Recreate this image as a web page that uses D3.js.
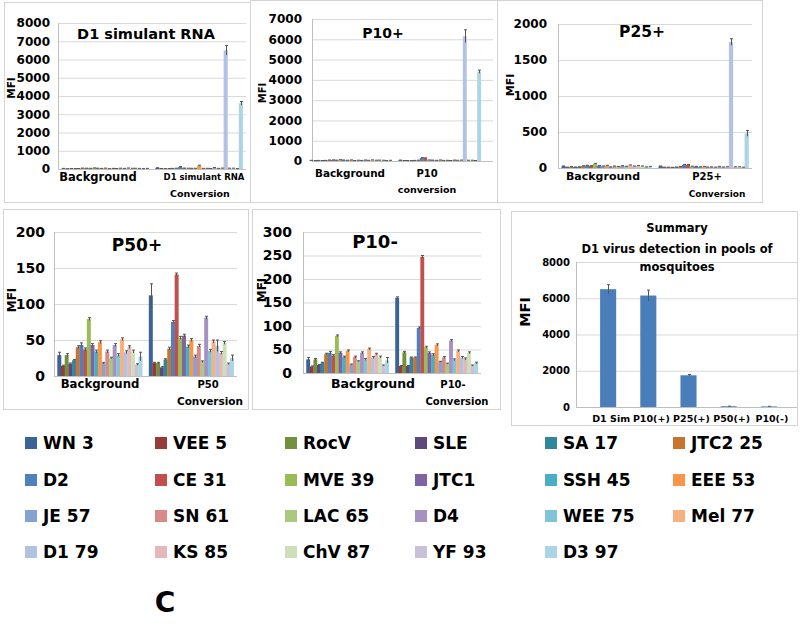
<!DOCTYPE html>
<html><head><meta charset="utf-8">
<script src="https://cdn.jsdelivr.net/npm/d3@7"></script>
<style>body{margin:0;background:#fff}svg{display:block}text{font-family:"DejaVu Sans",sans-serif;font-weight:bold;fill:#000}</style>
</head><body><svg id="c" width="800" height="630"></svg>
<script>
// ---------- data ----------
const series = ["WN 3","VEE 5","RocV","SLE","SA 17","JTC2 25","D2","CE 31","MVE 39","JTC1","SSH 45","EEE 53","JE 57","SN 61","LAC 65","D4","WEE 75","Mel 77","D1 79","KS 85","ChV 87","YF 93","D3 97"];
const colors = ["#3B6496","#983A38","#74903C","#5F497A","#31859C","#C8742F","#4F81BD","#C0504D","#9BBB59","#8064A2","#4BACC6","#F79646","#86A2D4","#D88A88","#ABC87F","#A592C3","#80C4D9","#F8B07E","#B2C2E2","#E4B8B8","#CDDFB8","#C9C1DA","#ABD5E3"];
const groupLabels = ["Background","Conversion"];

const d1SimBackground    = [30,15,25,20,25,45,40,35,55,40,30,45,20,30,25,40,30,50,35,35,30,20,30];
const d1SimBackgroundErr = [5,3,4,3,4,5,5,4,6,5,4,5,3,4,4,5,4,6,5,5,4,3,5];
const d1SimConversion    = [60,25,20,20,30,40,120,45,40,35,35,190,30,35,25,70,30,45,6500,40,40,20,3600];
const d1SimConversionErr = [10,4,4,4,5,6,15,6,6,5,5,20,5,5,4,10,5,6,260,6,6,4,100];

const p10pBackground    = [30,15,25,20,25,45,50,40,60,45,35,50,20,35,25,45,30,50,35,40,35,20,30];
const p10pBackgroundErr = [5,3,4,3,4,5,5,4,6,5,4,5,3,4,4,5,4,6,5,5,4,3,5];
const p10pConversion    = [40,20,20,15,25,35,150,140,45,40,30,45,25,30,20,40,30,40,6150,35,35,20,4400];
const p10pConversionErr = [6,4,4,3,4,5,15,15,6,5,5,6,4,5,4,6,5,6,320,5,5,4,80];

const p25pBackground    = [25,10,18,12,15,28,35,30,60,32,25,35,14,25,18,30,22,40,25,30,25,14,20];
const p25pBackgroundErr = [3,2,2,2,2,3,3,3,4,3,3,3,2,3,2,3,3,3,3,3,3,2,3];
const p25pConversion    = [25,10,10,8,12,18,45,45,22,20,15,20,12,14,10,20,12,16,1750,15,15,10,480];
const p25pConversionErr = [3,2,2,2,2,2,4,4,3,3,2,3,2,2,2,3,2,2,45,2,2,2,40];

const p50pBackground    = [29,14,29,17,22,40,43,37,79,43,34,47,18,34,25,43,29,51,33,40,34,16,27];
const p50pBackgroundErr = [4,1,2,1,1,2,3,2,2,2,2,2,1,2,1,2,2,2,2,2,2,1,6];
const p50pConversion    = [112,18,18,12,23,38,75,141,53,56,41,50,27,42,20,81,35,48,42,32,46,17,25];
const p50pConversionErr = [16,1,1,1,1,2,2,2,2,2,2,2,2,2,1,2,2,2,8,2,2,1,4];

const p10mBackground    = [29,14,29,17,22,40,43,37,79,43,34,47,18,34,25,43,29,51,33,40,34,16,27];
const p10mBackgroundErr = [4,1,2,1,1,2,3,2,2,2,2,2,1,2,1,2,2,2,2,2,2,1,6];
const p10mConversion    = [160,15,44,15,33,33,96,247,55,43,39,60,24,33,20,69,28,47,33,30,43,16,21];
const p10mConversionErr = [2,1,2,1,1,1,2,3,2,2,2,2,1,2,1,2,2,2,2,2,2,1,2];

const summaryLabels = ["D1 Sim","P10(+)","P25(+)","P50(+)","P10(-)"];
const summaryValues = [6500,6150,1750,42,32];
const summaryErr    = [250,300,40,5,4];

// ---------- drawing ----------
const svg = d3.select("#c");
svg.append("rect").attr("width",800).attr("height",630).attr("fill","#fff");

function frame(box){
  svg.append("rect").attr("x",box[0]+0.5).attr("y",box[1]+0.5)
    .attr("width",box[2]-box[0]).attr("height",box[3]-box[1])
    .attr("fill","#fff").attr("stroke","#d4d4d4");
}
function yAxis(g,y,cfg){
  const ticks = d3.range(0,cfg.yMax+1,cfg.step);
  g.append("g").attr("transform",`translate(${cfg.x0},0)`)
    .call(d3.axisLeft(y).tickValues(ticks).tickSize(-(cfg.x1-cfg.x0)).tickFormat(""))
    .call(a=>a.select(".domain").remove())
    .selectAll("line").attr("stroke","#d9d9d9");
  const lab = g.append("g").attr("transform",`translate(${cfg.tickRight},0)`)
    .call(d3.axisLeft(y).tickValues(ticks).tickSize(0).tickPadding(0).tickFormat(d3.format("d")));
  lab.select(".domain").remove();
  lab.selectAll("text").attr("font-family",cfg.tickFont||"DejaVu Sans").attr("font-weight","bold")
    .attr("font-size",cfg.tickSize).attr("fill","#000");
  g.append("line").attr("x1",cfg.x0+0.5).attr("x2",cfg.x0+0.5).attr("y1",cfg.y1).attr("y2",cfg.y0).attr("stroke","#bfbfbf");
  g.append("line").attr("x1",cfg.x0).attr("x2",cfg.x1).attr("y1",cfg.y0+0.5).attr("y2",cfg.y0+0.5).attr("stroke","#bfbfbf");
  g.append("text").attr("transform",`translate(${cfg.mfi[0]},${cfg.mfi[1]}) rotate(-90)`)
    .attr("text-anchor","middle").attr("dominant-baseline","central").attr("font-size",cfg.mfi[2]).text("MFI");
}
function errBars(g,data,y){
  const eg = g.append("g").attr("stroke","#555").attr("stroke-width",1);
  data.forEach(d=>{
    if(!d.e) return;
    const cx = Math.round(d.cx)+0.5;
    eg.append("line").attr("x1",cx).attr("x2",cx).attr("y1",y(d.v+d.e)).attr("y2",y(Math.max(0,d.v-d.e)));
    eg.append("line").attr("x1",cx-1.5).attr("x2",cx+1.5).attr("y1",y(d.v+d.e)).attr("y2",y(d.v+d.e));
  });
}
function panel(cfg){
  frame(cfg.box);
  const g = svg.append("g");
  const y = d3.scaleLinear().domain([0,cfg.yMax]).range([cfg.y0,cfg.y1]);
  yAxis(g,y,cfg);
  const x = d3.scaleBand().domain(groupLabels).range([cfg.bx0??cfg.x0,cfg.bx1??cfg.x1]);
  const xi = d3.scaleBand().domain(series).range([0,x.bandwidth()]).paddingInner(0).paddingOuter(cfg.pad);
  const data = [];
  groupLabels.forEach((grp,gi)=>{
    series.forEach((s,si)=>{
      data.push({s,color:colors[si],x:x(grp)+xi(s),w:xi.bandwidth(),cx:x(grp)+xi(s)+xi.bandwidth()/2,v:cfg.values[gi][si],e:cfg.errs[gi][si]});
    });
  });
  g.append("g").selectAll("rect").data(data).join("rect")
    .attr("x",d=>d.x).attr("width",d=>d.w+0.3)
    .attr("y",d=>y(d.v)).attr("height",d=>y(0)-y(d.v)).attr("fill",d=>d.color);
  errBars(g,data,y);
  g.append("text").attr("x",cfg.title[0]).attr("y",cfg.title[1]).attr("text-anchor","middle")
    .attr("font-size",cfg.title[2]).text(cfg.titleText);
  cfg.cats.forEach(c=>{
    g.append("text").attr("x",c[1]).attr("y",c[2]).attr("text-anchor","middle").attr("font-size",c[3]).text(c[0]);
  });
}

panel({box:[4,2,250,202],x0:58,x1:246,y0:169,y1:23,yMax:8000,step:1000,tickRight:50,tickSize:12,pad:0.9,
  mfi:[11,88,10.5],title:[146,39,14.5],titleText:"D1 simulant RNA",
  values:[d1SimBackground,d1SimConversion],errs:[d1SimBackgroundErr,d1SimConversionErr],
  cats:[["Background",98,181,11.5],["D1 simulant RNA",204,180,8.5],["Conversion",200,197,9.5]]});

panel({box:[250,0,497,202],x0:312,x1:493,bx0:306,bx1:484,y0:161,y1:19,yMax:7000,step:1000,tickRight:302,tickSize:12,pad:0.9,
  mfi:[262,93,10],title:[383,38,14],titleText:"P10+",
  values:[p10pBackground,p10pConversion],errs:[p10pBackgroundErr,p10pConversionErr],
  cats:[["Background",350,177,10.4],["P10",427,177,10],["conversion",427,193,9.5]]});

panel({box:[497,0,762,202],x0:558,x1:752,y0:168,y1:24,yMax:2000,step:500,tickRight:547,tickSize:12,pad:0.9,
  mfi:[510,85,11],title:[642,37,15.5],titleText:"P25+",
  values:[p25pBackground,p25pConversion],errs:[p25pBackgroundErr,p25pConversionErr],
  cats:[["Background",603,180,11],["P25+",707,180,10],["Conversion",717,197,9]]});

panel({box:[3,209,248,409],x0:54,x1:237,y0:376,y1:232,yMax:200,step:50,tickRight:45,tickSize:14,tickFont:"Open Sans",pad:0.9,
  mfi:[12,300,12],title:[137,251,17],titleText:"P50+",
  values:[p50pBackground,p50pConversion],errs:[p50pBackgroundErr,p50pConversionErr],
  cats:[["Background",100,388,11.7],["P50",208,388,10],["Conversion",210,405,10.5]]});

panel({box:[252,209,500,409],x0:303,x1:481,y0:373,y1:232,yMax:300,step:50,tickRight:292,tickSize:14,tickFont:"Open Sans",pad:0.9,
  mfi:[262,290,12],title:[375,248,18],titleText:"P10-",
  values:[p10mBackground,p10mConversion],errs:[p10mBackgroundErr,p10mConversionErr],
  cats:[["Background",373,388,12.5],["P10-",453,388,10],["Conversion",457,405,10]]});

// summary
(function(){
  const cfg = {box:[511,211,797,425],x0:576,x1:797,y0:407,y1:262,yMax:8000,step:2000,tickRight:570,tickSize:10,mfi:[525,312,14.5]};
  frame(cfg.box);
  const g = svg.append("g");
  const y = d3.scaleLinear().domain([0,cfg.yMax]).range([cfg.y0,cfg.y1]);
  yAxis(g,y,cfg);
  const x = d3.scaleBand().domain(summaryLabels).range([576,801]).padding(0.6);
  const data = summaryLabels.map((l,i)=>({l,v:summaryValues[i],e:summaryErr[i],x:x(l),w:x.bandwidth(),cx:x(l)+x.bandwidth()/2}));
  g.append("g").selectAll("rect").data(data).join("rect")
    .attr("x",d=>d.x).attr("width",d=>d.w).attr("y",d=>y(d.v)).attr("height",d=>y(0)-y(d.v)).attr("fill","#4A7EBB");
  errBars(g,data,y);
  g.selectAll("text.cat").data(data).join("text").attr("class","cat")
    .attr("x",d=>d.cx+3).attr("y",422).attr("text-anchor","middle").attr("font-size",9.5).text(d=>d.l);
  ["Summary","D1 virus detection in pools of","mosquitoes"].forEach((t,i)=>{
    g.append("text").attr("x",677).attr("y",[232,253,271][i]).attr("text-anchor","middle").attr("font-size",11.5).text(t);
  });
})();

// legend
const lg = svg.append("g");
const colX = [25,155,285,415,545,673], rowY = [443,480,516,552];
series.forEach((s,i)=>{
  const cx = colX[i%6], cy = rowY[Math.floor(i/6)];
  lg.append("rect").attr("x",cx).attr("y",cy-6).attr("width",12).attr("height",12).attr("fill",colors[i]);
  lg.append("text").attr("x",cx+18).attr("y",cy).attr("dominant-baseline","central").attr("font-size",17).text(s);
});
svg.append("text").attr("x",165).attr("y",612).attr("text-anchor","middle").attr("font-size",28).text("C");
</script></body></html>
